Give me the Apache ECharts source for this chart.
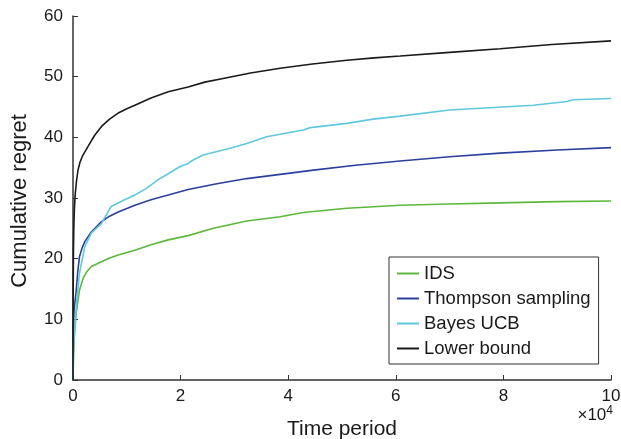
<!DOCTYPE html>
<html>
<head>
<meta charset="utf-8">
<script src="https://cdn.jsdelivr.net/npm/echarts@6/dist/echarts.min.js"></script>
<style>
html, body { margin: 0; padding: 0; background: #fff; }
#chart { width: 621px; height: 439px; }
</style>
</head>
<body>
<div id="chart"></div>
<script>
// x in units of 10^4 time periods, y = cumulative regret
var idsData = [[0,0],[0.01,4],[0.03,8],[0.06,11],[0.12,14.8],[0.19,16.8],[0.26,17.9],[0.34,18.7],[0.53,19.5],[0.68,20.1],[0.84,20.6],[1.15,21.4],[1.45,22.3],[1.77,23.1],[2.14,23.8],[2.61,25.0],[3.23,26.2],[3.85,26.9],[4.28,27.6],[5.09,28.3],[6.08,28.8],[7.0,29.0],[7.94,29.2],[9.0,29.4],[10,29.5]];
var thompsonData = [[0,0],[0.005,8],[0.02,11.5],[0.06,14.8],[0.09,18],[0.12,20.3],[0.17,21.8],[0.22,22.8],[0.34,24.4],[0.53,26.1],[0.68,27],[0.84,27.7],[1.15,28.8],[1.45,29.7],[1.77,30.5],[2.14,31.4],[2.65,32.3],[3.23,33.2],[3.85,33.9],[4.47,34.6],[5.25,35.4],[6.08,36.1],[7.0,36.8],[7.94,37.4],[9.0,37.9],[10,38.3]];
var bayesUcbData = [[0,0],[0.01,5.5],[0.06,12],[0.12,17.6],[0.22,22],[0.34,24.2],[0.53,25.8],[0.65,27.7],[0.71,28.6],[0.96,29.7],[1.15,30.5],[1.35,31.5],[1.58,33],[1.77,34],[1.99,35.2],[2.14,35.7],[2.24,36.3],[2.42,37.1],[2.92,38.2],[3.23,39],[3.6,40.1],[4.28,41.2],[4.41,41.6],[5.09,42.3],[5.58,43],[6.08,43.5],[7,44.5],[8.56,45.3],[9.18,45.9],[9.3,46.2],[10,46.4]];
var lowerBoundData = [[0,0],[0.003,14],[0.008,21],[0.015,25],[0.025,28],[0.04,30.5],[0.065,32.8],[0.093,34.6],[0.13,35.9],[0.18,37],[0.28,38.5],[0.4,40.3],[0.53,41.8],[0.68,43],[0.84,44.0],[1.0,44.7],[1.15,45.3],[1.45,46.5],[1.77,47.5],[2.14,48.3],[2.45,49.1],[2.79,49.7],[3.3,50.6],[3.85,51.4],[4.45,52.1],[5.09,52.7],[5.6,53.1],[6.08,53.4],[7.0,54.0],[7.94,54.6],[8.9,55.3],[10,55.9]];

var seriesNames = ['IDS', 'Thompson sampling', 'Bayes UCB', 'Lower bound'];
var seriesColors = ['#5cb83c', '#2b409c', '#5fc8dc', '#1a1a1a'];
var xTicks = [0, 2, 4, 6, 8, 10];
var yTicks = [0, 10, 20, 30, 40, 50, 60];

var font = 'Liberation Sans, Arial, sans-serif';

var myChart = echarts.init(document.getElementById('chart'));

function makeSeries(i, data) {
    return {
        name: seriesNames[i],
        type: 'line',
        data: data,
        showSymbol: false,
        lineStyle: { color: seriesColors[i], width: 1.6 },
        itemStyle: { color: seriesColors[i] },
        animation: false
    };
}

var option = {
    backgroundColor: '#fff',
    grid: { left: 73, right: 10, top: 16, bottom: 59, containLabel: false, outerBoundsMode: 'none' },
    xAxis: {
        type: 'value',
        min: xTicks[0],
        max: xTicks[xTicks.length - 1],
        interval: 2,
        name: 'Time period',
        nameLocation: 'middle',
        nameGap: 39,
        nameTextStyle: { fontFamily: font, fontSize: 21, color: '#1a1a1a' },
        axisLine: { lineStyle: { color: '#333', width: 1.5 } },
        axisTick: { inside: true, length: 5, lineStyle: { color: '#333' } },
        axisLabel: { fontFamily: font, fontSize: 17, color: '#1a1a1a', margin: 8 },
        splitLine: { show: false }
    },
    yAxis: {
        type: 'value',
        min: yTicks[0],
        max: yTicks[yTicks.length - 1],
        interval: 10,
        name: 'Cumulative regret',
        nameLocation: 'middle',
        nameGap: 42,
        nameTextStyle: { fontFamily: font, fontSize: 22, color: '#1a1a1a', padding: [0, 6, 0, 0] },
        axisLine: { show: true, lineStyle: { color: '#333', width: 1.5 } },
        axisTick: { show: true, inside: true, length: 5, lineStyle: { color: '#333' } },
        axisLabel: { fontFamily: font, fontSize: 17, color: '#1a1a1a', margin: 10 },
        splitLine: { show: false }
    },
    legend: {
        data: seriesNames,
        orient: 'vertical',
        left: 389,
        top: 257,
        backgroundColor: '#fff',
        borderColor: '#333',
        borderWidth: 1,
        padding: [7, 8, 6, 8],
        itemGap: 6,
        icon: 'rect',
        itemWidth: 22,
        itemHeight: 2,
        textStyle: { fontFamily: font, fontSize: 18.5, color: '#1a1a1a' }
    },
    graphic: [
        {
            type: 'text',
            right: 8,
            top: 405,
            style: {
                text: '×10{sup|4}',
                font: '17px ' + font,
                fill: '#1a1a1a',
                rich: { sup: { fontSize: 12, verticalAlign: 'top', padding: [0, 0, 8, 0], fontFamily: font } }
            }
        }
    ],
    series: [
        makeSeries(0, idsData),
        makeSeries(1, thompsonData),
        makeSeries(2, bayesUcbData),
        makeSeries(3, lowerBoundData)
    ]
};
myChart.setOption(option);
</script>
</body>
</html>
